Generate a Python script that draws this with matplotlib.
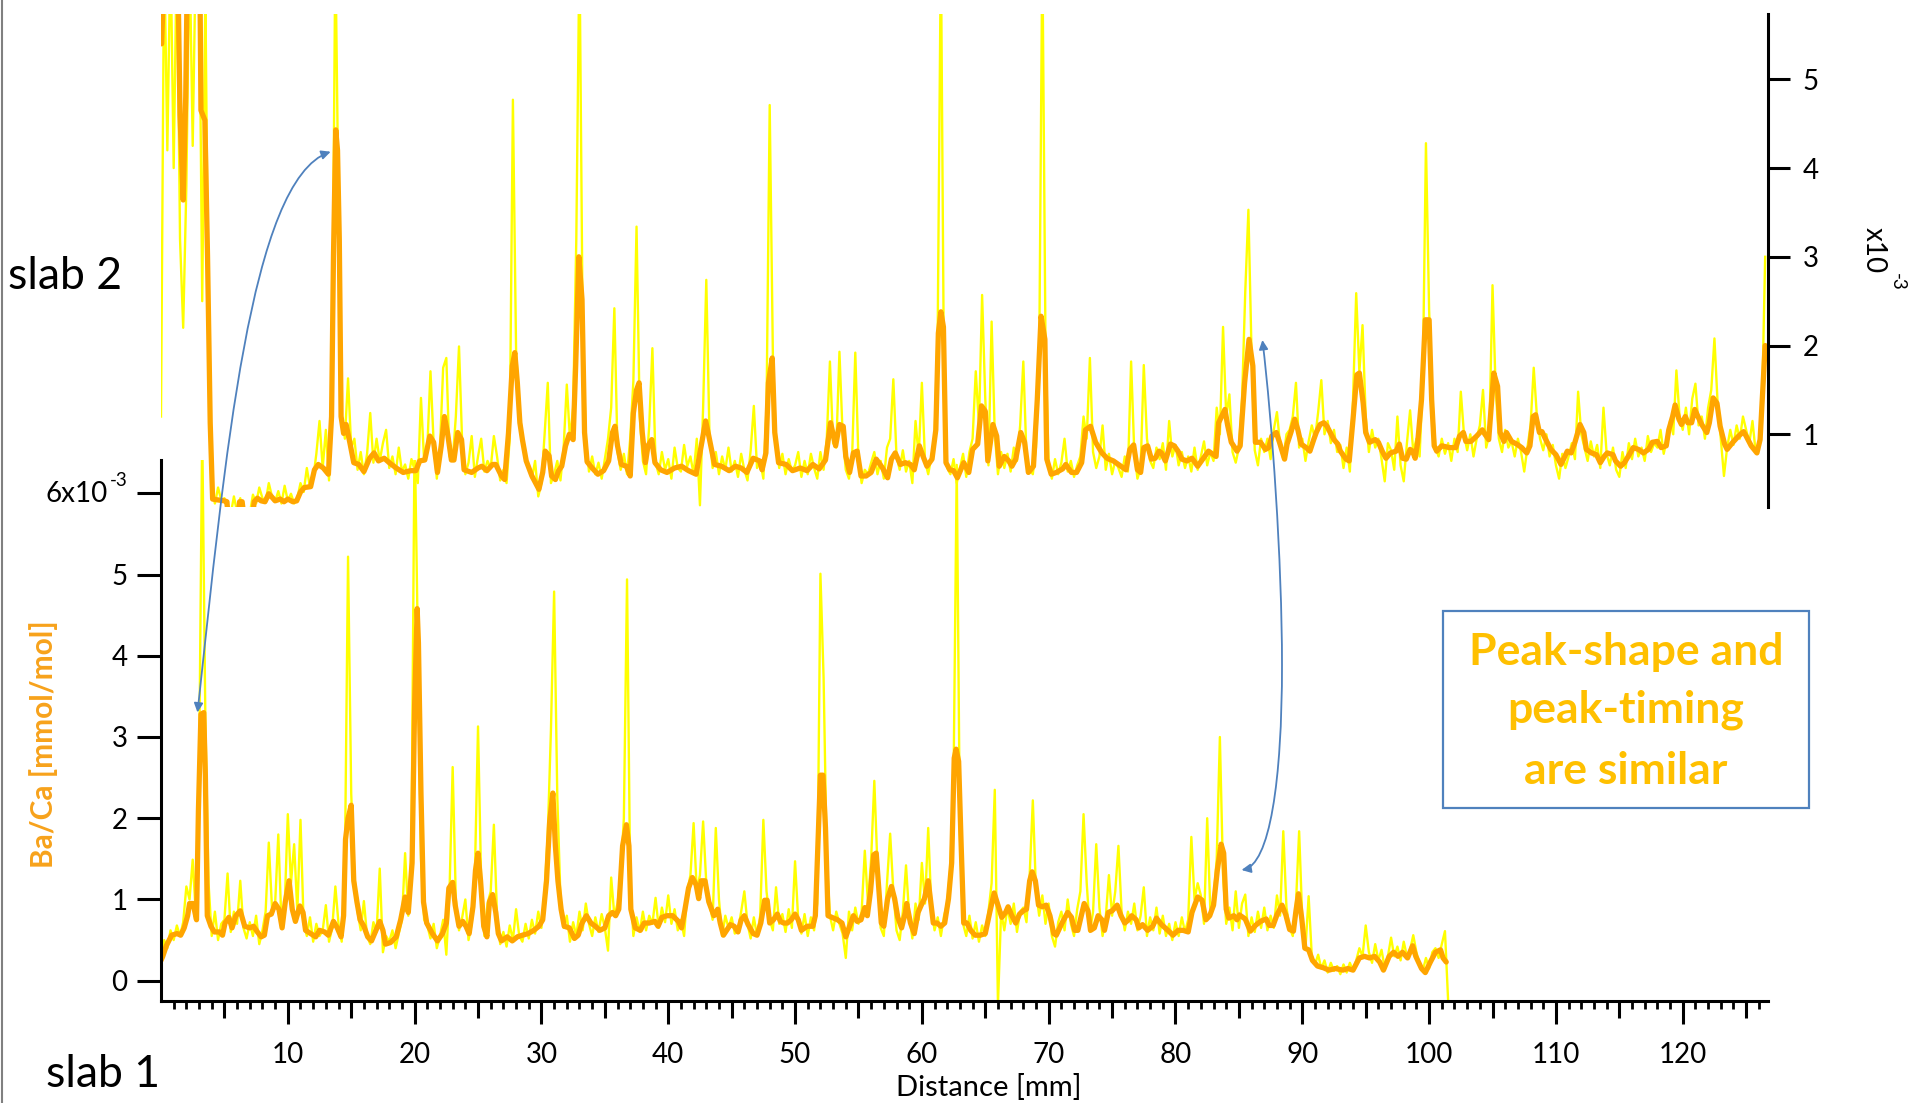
import numpy as np
import matplotlib
matplotlib.use("Agg")
import matplotlib.pyplot as plt
from matplotlib.path import Path
from matplotlib.patches import FancyArrowPatch, Rectangle
from matplotlib.lines import Line2D

plt.rcParams['font.family'] = ['Lato', 'DejaVu Sans']

# ---------------- data (Ba/Ca, x10^-3 mmol/mol vs distance in mm) ----------------
RAW_STEP = 0.25  # sampling step of the raw (yellow) series, mm

# slab 2 (upper panel) raw signal, one value every 0.25 mm starting at 0
slab2_raw = [
    1.2, 6.5, 4.2, 6.5,   4.0, 6.5, 3.2, 2.2,   3.8, 6.5, 4.25, 6.5,   6.5, 2.5, 6.0, 2.0,
    0.40, 0.22, 0.40, 0.26,   0.28, 0.12, 0.10, 0.30,   0.12, 0.28, 0.10, 0.12,   0.10, 0.32, 0.22, 0.40,
    0.28, 0.24, 0.45, 0.30,   0.24, 0.36, 0.22, 0.42,   0.25, 0.33, 0.22, 0.28,   0.45, 0.35, 0.62, 0.40,
    0.50, 0.78, 1.15, 0.62,   1.05, 0.48, 1.8, 6.5,   3.5, 1.22, 0.95, 1.63,   0.85, 0.95, 0.60, 0.80,
    0.55, 0.78, 1.24, 0.68,   0.95, 0.70, 0.90, 1.05,   0.62, 0.75, 0.55, 0.85,   0.58, 0.66, 0.50, 0.72,
    0.60, 0.45, 1.41, 0.70,   0.85, 1.71, 0.90, 0.50,   0.85, 1.75, 1.86, 0.75,   0.70, 1.2, 1.99, 0.90,
    0.55, 0.68, 0.98, 0.52,   0.75, 0.95, 0.58, 0.70,   0.62, 0.98, 0.75, 0.48,   0.60, 0.45, 0.95, 4.77,
    1.95, 1.3, 0.95, 0.75,   0.62, 0.50, 0.70, 0.30,   0.45, 1.0, 1.58, 0.45,   0.55, 0.70, 0.48, 0.85,
    1.56, 0.95, 1.3, 3.2,   6.5, 2.2, 0.95, 0.58,   0.75, 0.55, 0.68, 0.50,   0.72, 0.95, 1.3, 2.42,
    0.80, 0.60, 0.78, 0.55,   0.95, 1.6, 3.34, 1.2,   0.70, 0.55, 1.1, 1.97,   0.68, 0.55, 0.80, 0.60,
    0.72, 0.50, 0.85, 0.62,   0.58, 0.88, 0.64, 0.75,   0.55, 0.95, 0.20, 1.3,   2.74, 1.0, 0.62, 0.80,
    0.55, 0.75, 0.60, 0.85,   0.58, 0.70, 0.52, 0.78,   0.60, 0.48, 0.82, 1.32,   0.62, 0.70, 0.50, 1.3,
    4.71, 1.9, 0.9, 0.62,   0.78, 0.55, 0.72, 0.58,   0.65, 0.80, 0.52, 0.70,   0.55, 0.78, 0.62, 0.50,
    0.80, 0.60, 0.95, 1.82,   0.90, 0.85, 1.93, 1.0,   0.60, 0.50, 0.75, 1.92,   0.72, 0.45, 0.60, 0.55,
    0.68, 0.80, 0.55, 0.70,   0.50, 0.85, 0.95, 1.62,   0.75, 0.60, 0.82, 0.58,   0.70, 0.45, 1.15, 0.75,
    1.58, 0.70, 0.55, 0.75,   0.95, 2.2, 6.5, 1.5,   0.62, 0.55, 0.72, 0.45,   0.62, 0.78, 0.52, 0.80,
    0.95, 1.71, 1.1, 2.57,   1.4, 0.65, 2.27, 1.0,   0.55, 0.80, 0.62, 0.78,   0.58, 0.85, 0.70, 1.1,
    1.82, 0.75, 0.60, 0.55,   0.85, 1.8, 6.5, 2.0,   0.65, 0.50, 0.72, 0.55,   0.68, 0.95, 0.58, 0.70,
    0.52, 0.65, 0.75, 1.2,   0.95, 1.86, 0.80, 0.62,   0.75, 1.1, 0.60, 0.78,   0.55, 0.70, 0.62, 0.52,
    0.75, 0.58, 1.82, 0.80,   0.50, 0.62, 1.78, 0.95,   0.70, 0.62, 0.85, 0.72,   0.90, 0.60, 1.15, 0.75,
    0.88, 0.65, 0.80, 0.62,   0.75, 0.58, 0.85, 0.60,   0.75, 0.92, 0.65, 0.80,   0.70, 1.3, 1.0, 2.21,
    1.2, 1.45, 0.80, 0.68,   0.85, 1.4, 2.6, 3.53,   1.9, 0.82, 0.65, 0.95,   0.80, 0.95, 0.72, 1.05,
    1.25, 0.88, 0.72, 1.0,   1.05, 1.2, 1.58, 0.85,   0.95, 0.70, 0.92, 1.1,   0.95, 1.25, 1.61, 1.0,
    1.15, 0.90, 1.05, 0.80,   0.88, 0.62, 0.85, 0.58,   1.4, 2.59, 1.7, 2.23,   1.2, 0.80, 1.05, 0.85,
    0.95, 0.72, 0.47, 0.90,   0.82, 0.60, 1.2, 0.65,   0.47, 0.90, 1.27, 0.80,   0.95, 0.75, 1.6, 4.28,
    2.4, 1.4, 0.85, 0.75,   0.95, 0.78, 0.90, 0.70,   0.95, 0.80, 1.48, 1.0,   0.82, 1.0, 0.75, 0.95,
    1.1, 1.5, 0.85, 1.0,   2.68, 1.5, 0.95, 0.80,   1.05, 0.85, 0.92, 0.75,   0.95, 0.80, 0.58, 0.85,
    1.1, 1.75, 1.2, 0.95,   0.82, 1.0, 0.75, 0.88,   0.65, 0.50, 0.78, 0.62,   0.75, 0.90, 0.72, 1.48,
    1.0, 0.85, 0.70, 0.92,   0.75, 0.88, 0.62, 1.3,   0.78, 0.65, 0.85, 0.60,   0.52, 0.80, 0.62, 0.90,
    0.72, 0.95, 0.75, 0.85,   0.70, 0.98, 0.80, 0.90,   0.85, 1.05, 0.78, 0.95,   1.15, 1.0, 1.72, 1.2,
    1.05, 1.3, 1.0, 1.4,   1.57, 1.1, 1.2, 0.95,   1.3, 1.5, 2.08, 1.35,   0.95, 0.53, 0.85, 1.05,
    0.88, 1.1, 0.95, 1.2,   1.05, 0.90, 1.15, 0.80,   0.85, 1.3, 3.0,
]

# slab 2 smoothed signal (x mm, value)
slab2_smooth = [
    (0.05, 5.4), (0.3, 6.5), (1.3, 6.5), (1.5, 4.6), (1.75, 3.64), (1.95, 4.8), (2.1, 6.5), (3.05, 6.5),
    (3.15, 4.65), (3.46, 4.54), (3.67, 3.0), (3.88, 1.13), (4.07, 0.27), (4.5, 0.26), (5.0, 0.25), (5.2, 0.24),
    (5.3, 0.05), (6.05, 0.05), (6.2, 0.24), (6.4, 0.24), (6.55, 0.05), (7.2, 0.05), (7.35, 0.24), (7.6, 0.28),
    (7.9, 0.25), (8.2, 0.24), (8.5, 0.33), (8.7, 0.30), (9.0, 0.25), (9.4, 0.27), (9.7, 0.24), (10.0, 0.27),
    (10.4, 0.24), (10.7, 0.25), (11.0, 0.35), (11.3, 0.40), (11.8, 0.41), (12.1, 0.60), (12.4, 0.66), (12.8, 0.62),
    (13.2, 0.55), (13.45, 1.2), (13.6, 3.0), (13.78, 4.43), (13.92, 4.2), (14.06, 3.2), (14.2, 1.2), (14.4, 1.01),
    (14.6, 1.11), (14.9, 0.90), (15.2, 0.68), (15.6, 0.66), (16.0, 0.58), (16.45, 0.73), (16.8, 0.79), (17.15, 0.70),
    (17.6, 0.73), (18.0, 0.68), (18.55, 0.62), (19.1, 0.57), (19.7, 0.59), (20.1, 0.59), (20.4, 0.70), (20.8, 0.71),
    (21.2, 0.98), (21.5, 0.91), (21.8, 0.57), (22.1, 0.87), (22.35, 1.2), (22.6, 1.01), (22.9, 0.71), (23.1, 0.71),
    (23.4, 1.02), (23.7, 0.94), (23.9, 0.60), (24.5, 0.57), (25.0, 0.62), (25.3, 0.64), (25.7, 0.59), (26.15, 0.66),
    (26.4, 0.66), (26.85, 0.53), (27.1, 0.49), (27.4, 1.01), (27.7, 1.77), (27.9, 1.92), (28.1, 1.58), (28.3, 1.13),
    (28.5, 0.94), (28.8, 0.70), (29.25, 0.53), (29.8, 0.38), (30.1, 0.57), (30.3, 0.81), (30.6, 0.76), (30.8, 0.53),
    (31.1, 0.49), (31.35, 0.59), (31.6, 0.64), (31.9, 0.87), (32.2, 1.0), (32.5, 0.94), (32.7, 1.77), (32.95, 3.0),
    (33.2, 2.52), (33.4, 1.02), (33.6, 0.69), (34.0, 0.62), (34.45, 0.55), (34.9, 0.59), (35.3, 0.70), (35.6, 1.02),
    (35.8, 1.09), (36.0, 0.87), (36.3, 0.66), (36.7, 0.64), (37.0, 0.53), (37.25, 1.24), (37.5, 1.5), (37.7, 1.58),
    (37.95, 1.02), (38.2, 0.68), (38.4, 0.87), (38.7, 0.94), (38.95, 0.68), (39.4, 0.60), (39.9, 0.57), (40.5, 0.62),
    (41.05, 0.64), (41.6, 0.59), (42.2, 0.55), (42.6, 0.87), (42.95, 1.15), (43.2, 0.98), (43.65, 0.66), (44.2, 0.64),
    (44.8, 0.59), (45.3, 0.64), (45.75, 0.62), (46.2, 0.57), (46.7, 0.73), (47.2, 0.70), (47.4, 0.60), (47.7, 0.79),
    (47.9, 1.58), (48.2, 1.86), (48.4, 1.02), (48.7, 0.68), (49.3, 0.66), (49.8, 0.59), (50.4, 0.62), (50.95, 0.59),
    (51.4, 0.66), (51.9, 0.61), (52.4, 0.71), (52.8, 1.13), (53.2, 0.87), (53.5, 1.11), (53.8, 1.09), (54.0, 0.75),
    (54.3, 0.57), (54.6, 0.79), (54.9, 0.81), (55.2, 0.53), (55.6, 0.53), (56.0, 0.57), (56.4, 0.72), (56.9, 0.62),
    (57.3, 0.51), (57.6, 0.72), (57.9, 0.79), (58.3, 0.66), (58.7, 0.68), (59.1, 0.66), (59.4, 0.60), (59.8, 0.87),
    (60.1, 0.75), (60.4, 0.64), (60.8, 0.72), (61.1, 1.05), (61.3, 2.14), (61.5, 2.38), (61.7, 2.21), (61.9, 0.68),
    (62.2, 0.60), (62.5, 0.59), (62.8, 0.51), (63.3, 0.68), (63.7, 0.57), (64.0, 0.83), (64.4, 0.89), (64.7, 1.32),
    (65.0, 1.26), (65.2, 0.70), (65.6, 1.11), (65.9, 0.98), (66.1, 0.64), (66.5, 0.75), (66.85, 0.70), (67.1, 0.64),
    (67.4, 0.72), (67.8, 1.02), (68.1, 0.91), (68.4, 0.57), (68.8, 0.64), (69.1, 1.39), (69.4, 2.33), (69.7, 2.07),
    (69.85, 0.72), (70.2, 0.55), (70.6, 0.57), (71.1, 0.61), (71.35, 0.66), (71.8, 0.57), (72.2, 0.57), (72.6, 0.68),
    (72.9, 1.05), (73.3, 1.09), (73.7, 0.91), (74.2, 0.79), (74.6, 0.73), (75.1, 0.70), (75.7, 0.64), (76.1, 0.60),
    (76.4, 0.83), (76.7, 0.88), (77.0, 0.60), (77.25, 0.57), (77.5, 0.85), (77.8, 0.87), (78.1, 0.72), (78.4, 0.73),
    (78.7, 0.81), (78.9, 0.79), (79.2, 0.70), (79.6, 0.89), (79.9, 0.87), (80.2, 0.81), (80.5, 0.72), (80.9, 0.70),
    (81.3, 0.73), (81.75, 0.64), (82.2, 0.73), (82.6, 0.81), (83.2, 0.75), (83.4, 1.13), (83.9, 1.28), (84.1, 1.11),
    (84.4, 0.91), (84.85, 0.81), (85.1, 0.87), (85.45, 1.58), (85.8, 2.07), (86.1, 1.77), (86.3, 0.91), (86.7, 0.91),
    (87.1, 0.83), (87.35, 0.85), (87.6, 0.98), (87.95, 1.02), (88.2, 0.91), (88.6, 0.72), (88.8, 0.89), (89.1, 1.02),
    (89.4, 1.17), (89.65, 1.05), (89.9, 0.89), (90.3, 0.85), (90.6, 0.81), (90.9, 0.94), (91.1, 1.02), (91.4, 1.11),
    (91.7, 1.13), (91.95, 1.09), (92.2, 1.02), (92.5, 0.94), (92.8, 0.89), (93.0, 0.81), (93.45, 0.72), (93.7, 0.70),
    (94.0, 1.17), (94.3, 1.67), (94.5, 1.69), (94.8, 1.35), (95.0, 1.02), (95.3, 0.91), (95.75, 0.94), (96.0, 0.91),
    (96.3, 0.81), (96.6, 0.73), (96.95, 0.79), (97.4, 0.81), (97.65, 0.89), (97.9, 0.73), (98.2, 0.72), (98.5, 0.83),
    (98.7, 0.81), (98.9, 0.73), (99.1, 0.91), (99.4, 1.39), (99.7, 2.29), (100.0, 2.29), (100.2, 1.39), (100.4, 0.87),
    (100.6, 0.81), (101.0, 0.87), (101.6, 0.85), (102.1, 0.85), (102.4, 0.98), (102.7, 1.02), (102.9, 0.92), (103.3, 0.92),
    (103.75, 0.98), (104.2, 1.05), (104.4, 1.0), (104.7, 0.94), (105.1, 1.69), (105.4, 1.54), (105.6, 1.02), (105.9, 0.92),
    (106.1, 1.02), (106.5, 0.92), (106.9, 0.89), (107.3, 0.85), (107.7, 0.79), (107.95, 0.87), (108.2, 1.2), (108.4, 1.22),
    (108.7, 1.02), (108.9, 1.03), (109.2, 0.94), (109.6, 0.83), (110.0, 0.77), (110.4, 0.66), (110.7, 0.75), (110.9, 0.81),
    (111.2, 0.79), (111.5, 0.91), (111.9, 1.11), (112.2, 1.02), (112.4, 0.83), (112.8, 0.79), (113.2, 0.77), (113.5, 0.68),
    (113.8, 0.75), (114.05, 0.79), (114.5, 0.77), (114.7, 0.70), (115.1, 0.64), (115.4, 0.68), (115.7, 0.75), (116.1, 0.85),
    (116.5, 0.83), (116.9, 0.79), (117.3, 0.83), (117.6, 0.91), (118.0, 0.92), (118.3, 0.85), (118.7, 0.87), (118.9, 1.05),
    (119.2, 1.2), (119.4, 1.33), (119.7, 1.17), (119.9, 1.11), (120.2, 1.2), (120.4, 1.13), (120.7, 1.13), (120.95, 1.28),
    (121.2, 1.2), (121.5, 1.11), (121.9, 1.02), (122.1, 1.13), (122.4, 1.41), (122.7, 1.35), (122.95, 1.09), (123.3, 0.89),
    (123.5, 0.83), (123.95, 0.91), (124.4, 0.98), (124.8, 1.03), (125.0, 0.98), (125.4, 0.87), (125.85, 0.79), (126.1, 0.94),
    (126.5, 2.0),
]

# slab 1 (lower panel) raw signal, one value every 0.25 mm starting at 0
slab1_raw = [
    0.25, 0.50, 0.40, 0.62,   0.50, 0.68, 0.55, 0.72,   1.16, 1.0, 1.49, 0.80,   2.5, 6.8, 3.2, 1.2,
    0.55, 0.85, 0.50, 0.70,   0.75, 1.32, 0.60, 0.85,   0.70, 1.23, 0.65, 0.52,   0.72, 0.55, 0.80, 0.45,
    0.62, 0.85, 1.7, 0.90,   0.95, 1.8, 0.70, 0.90,   2.05, 1.2, 1.68, 0.85,   1.98, 0.70, 0.55, 0.78,
    0.48, 0.70, 0.55, 0.62,   0.93, 0.48, 0.65, 1.16,   0.70, 0.48, 1.4, 5.22,   2.3, 1.3, 0.85, 0.62,
    0.98, 0.55, 0.45, 0.72,   0.60, 1.38, 0.35, 0.55,   0.48, 0.62, 0.40, 0.58,   0.75, 1.57, 0.80, 1.6,
    6.8, 4.2, 1.5, 0.75,   0.68, 0.52, 0.70, 0.40,   0.55, 0.75, 0.32, 1.1,   2.63, 1.0, 0.62, 0.78,
    1.0, 0.50, 0.70, 1.3,   3.13, 1.2, 0.55, 0.95,   1.1, 1.92, 0.80, 0.45,   0.60, 0.42, 0.68, 0.50,
    0.88, 0.55, 0.48, 0.70,   0.52, 0.75, 0.58, 0.85,   0.65, 1.1, 1.8, 3.09,   4.79, 2.27, 1.02, 0.65,
    0.80, 0.48, 0.72, 0.55,   0.85, 0.62, 0.95, 0.70,   0.55, 0.78, 0.60, 0.82,   0.65, 0.37, 1.27, 0.80,
    0.95, 1.3, 2.0, 4.94,   1.2, 0.55, 0.78, 0.60,   0.85, 0.62, 0.80, 0.70,   1.02, 0.65, 0.90, 0.72,
    1.05, 0.70, 0.88, 0.62,   0.75, 0.55, 1.1, 1.3,   1.94, 1.1, 1.3, 1.96,   1.2, 0.95, 0.75, 1.88,
    1.0, 0.55, 0.80, 0.65,   0.78, 0.58, 0.62, 0.85,   1.1, 0.70, 0.52, 0.78,   0.55, 0.80, 1.98, 1.1,
    0.75, 0.62, 1.15, 0.70,   0.82, 0.60, 0.88, 0.65,   1.47, 0.75, 0.58, 0.82,   0.55, 0.78, 0.62, 0.95,
    5.01, 3.73, 1.5, 0.80,   0.62, 0.85, 0.70, 0.58,   0.28, 0.85, 0.62, 0.90,   0.70, 0.85, 1.6, 0.95,
    1.5, 2.46, 1.4, 0.65,   0.55, 1.2, 1.81, 1.1,   0.62, 0.50, 0.85, 1.42,   0.80, 0.52, 0.95, 0.75,
    1.45, 0.95, 1.88, 0.90,   0.62, 0.78, 0.55, 0.80,   0.95, 1.4, 2.5, 6.35,   1.8, 0.70, 0.55, 0.80,
    0.52, 0.72, 0.48, 0.68,   0.55, 0.85, 1.2, 2.35,   -0.3, 0.85, 0.62, 0.90,   0.70, 0.95, 0.60, 0.85,
    0.90, 0.72, 1.3, 2.22,   1.1, 0.80, 1.05, 0.70,   0.95, 0.55, 0.42, 0.72,   0.85, 0.62, 1.0, 0.70,
    0.55, 0.88, 1.1, 2.05,   1.2, 0.60, 0.85, 1.68,   0.90, 0.55, 0.78, 1.3,   0.80, 1.1, 1.66, 0.85,
    0.62, 0.85, 0.70, 0.95,   0.62, 0.80, 1.15, 0.55,   0.78, 0.62, 0.90, 0.58,   0.80, 0.55, 0.70, 0.50,
    0.72, 0.55, 0.78, 0.60,   0.75, 1.77, 1.0, 1.2,   1.05, 0.70, 2.0, 0.85,   1.0, 1.5, 3.0, 1.3,
    0.70, 0.90, 0.62, 1.1,   0.65, 0.95, 1.06, 0.55,   0.78, 0.60, 0.85, 0.65,   0.90, 0.62, 0.80, 0.65,
    1.05, 0.80, 1.84, 0.90,   0.65, 0.55, 0.95, 1.84,   0.75, 0.40, 1.04, 0.30,   0.20, 0.32, 0.15, 0.25,
    0.10, 0.22, 0.12, 0.18,   0.08, 0.20, 0.10, 0.22,   0.12, 0.25, 0.40, 0.30,   0.68, 0.35, 0.22, 0.45,
    0.25, 0.38, 0.15, 0.30,   0.53, 0.30, 0.42, 0.25,   0.48, 0.30, 0.38, 0.56,   0.35, 0.20, 0.12, 0.28,
    0.15, 0.35, 0.40, 0.28,   0.45, 0.61, -0.25,
]

# slab 1 smoothed signal (x mm, value)
slab1_smooth = [
    (0.0, 0.25), (0.14, 0.30), (0.42, 0.43), (0.84, 0.56), (1.27, 0.58), (1.55, 0.56), (1.83, 0.65), (2.1, 0.8),
    (2.25, 0.95), (2.53, 0.95), (2.8, 0.75), (2.95, 2.09), (3.15, 3.28), (3.37, 3.30), (3.5, 2.52), (3.65, 0.80),
    (3.94, 0.67), (4.2, 0.60), (4.6, 0.60), (4.85, 0.56), (5.05, 0.71), (5.35, 0.78), (5.6, 0.65), (5.9, 0.80),
    (6.25, 0.86), (6.6, 0.67), (7.0, 0.65), (7.3, 0.67), (7.6, 0.60), (7.9, 0.54), (8.15, 0.56), (8.4, 0.80),
    (8.7, 0.82), (9.0, 0.95), (9.3, 0.88), (9.55, 0.65), (9.8, 0.97), (10.1, 1.23), (10.35, 0.88), (10.6, 0.73),
    (10.95, 0.92), (11.2, 0.84), (11.4, 0.62), (11.8, 0.58), (12.2, 0.54), (12.5, 0.62), (12.9, 0.60), (13.2, 0.56),
    (13.6, 0.73), (13.9, 0.65), (14.2, 0.54), (14.4, 0.8), (14.55, 1.74), (14.75, 2.0), (15.0, 2.16), (15.2, 1.23),
    (15.45, 0.97), (15.7, 0.75), (16.0, 0.67), (16.3, 0.54), (16.6, 0.49), (16.9, 0.60), (17.25, 0.73), (17.5, 0.62),
    (17.7, 0.45), (18.1, 0.47), (18.55, 0.54), (18.9, 0.75), (19.25, 1.03), (19.5, 0.84), (19.8, 1.45), (20.0, 3.39),
    (20.2, 4.58), (20.3, 4.16), (20.5, 2.31), (20.7, 0.97), (20.95, 0.71), (21.4, 0.58), (21.8, 0.49), (22.2, 0.58),
    (22.5, 0.71), (22.7, 1.14), (23.0, 1.21), (23.2, 0.93), (23.5, 0.67), (23.8, 0.73), (24.05, 0.67), (24.3, 0.58),
    (24.6, 0.91), (24.8, 1.36), (25.0, 1.57), (25.2, 1.23), (25.45, 0.67), (25.7, 0.54), (25.9, 0.97), (26.15, 1.06),
    (26.4, 0.84), (26.6, 0.58), (26.85, 0.49), (27.3, 0.54), (27.7, 0.49), (28.1, 0.54), (28.5, 0.56), (28.95, 0.58),
    (29.4, 0.62), (29.8, 0.67), (30.1, 0.75), (30.4, 1.23), (30.65, 1.96), (30.9, 2.31), (31.1, 1.66), (31.3, 1.23),
    (31.55, 0.88), (31.8, 0.67), (32.2, 0.65), (32.6, 0.52), (32.9, 0.56), (33.2, 0.71), (33.55, 0.80), (33.9, 0.71),
    (34.25, 0.67), (34.6, 0.62), (35.0, 0.65), (35.3, 0.80), (35.6, 0.84), (35.85, 0.80), (36.1, 0.88), (36.4, 1.66),
    (36.7, 1.92), (36.9, 1.66), (37.05, 0.88), (37.4, 0.65), (37.8, 0.62), (38.1, 0.71), (38.5, 0.71), (38.95, 0.73),
    (39.2, 0.67), (39.5, 0.78), (39.9, 0.80), (40.35, 0.80), (40.8, 0.73), (41.05, 0.65), (41.3, 0.86), (41.6, 1.14),
    (41.9, 1.27), (42.2, 1.18), (42.4, 1.01), (42.6, 1.23), (42.9, 1.23), (43.2, 0.97), (43.6, 0.80), (43.9, 0.88),
    (44.1, 0.71), (44.35, 0.56), (44.6, 0.62), (44.9, 0.69), (45.2, 0.67), (45.5, 0.60), (45.75, 0.75), (46.0, 0.80),
    (46.3, 0.69), (46.7, 0.58), (47.0, 0.56), (47.3, 0.71), (47.6, 0.99), (47.8, 0.99), (48.0, 0.71), (48.3, 0.75),
    (48.6, 0.82), (48.85, 0.73), (49.1, 0.71), (49.4, 0.71), (49.7, 0.75), (50.0, 0.82), (50.25, 0.75), (50.5, 0.62),
    (50.95, 0.67), (51.4, 0.67), (51.6, 0.80), (51.8, 1.66), (52.0, 2.53), (52.2, 2.53), (52.4, 1.88), (52.6, 0.80),
    (52.9, 0.78), (53.35, 0.75), (53.7, 0.71), (54.0, 0.54), (54.3, 0.67), (54.6, 0.80), (54.9, 0.73), (55.2, 0.75),
    (55.5, 0.90), (55.7, 0.80), (55.95, 1.10), (56.2, 1.55), (56.4, 1.57), (56.6, 1.14), (56.8, 0.71), (57.0, 0.67),
    (57.3, 1.01), (57.6, 1.16), (57.85, 1.01), (58.1, 0.78), (58.4, 0.65), (58.7, 0.84), (58.8, 0.95), (59.1, 0.71),
    (59.4, 0.58), (59.7, 0.84), (59.95, 0.93), (60.2, 1.01), (60.5, 1.23), (60.7, 0.97), (60.9, 0.71), (61.2, 0.71),
    (61.5, 0.67), (61.8, 0.71), (62.1, 1.01), (62.35, 1.45), (62.55, 2.74), (62.7, 2.85), (62.9, 2.70), (63.1, 1.66),
    (63.3, 0.71), (63.55, 0.71), (63.85, 0.62), (64.2, 0.56), (64.6, 0.56), (65.0, 0.58), (65.35, 0.84), (65.7, 1.08),
    (66.0, 0.93), (66.3, 0.78), (66.6, 0.84), (66.8, 0.91), (67.1, 0.80), (67.4, 0.71), (67.7, 0.82), (68.0, 0.86),
    (68.25, 0.88), (68.5, 1.23), (68.7, 1.34), (68.95, 1.23), (69.2, 0.93), (69.5, 0.91), (69.8, 0.93), (70.1, 0.80),
    (70.4, 0.58), (70.6, 0.56), (71.05, 0.71), (71.5, 0.84), (71.8, 0.78), (72.05, 0.62), (72.3, 0.62), (72.6, 0.82),
    (72.8, 0.95), (73.1, 0.86), (73.3, 0.62), (73.6, 0.65), (73.9, 0.80), (74.2, 0.75), (74.4, 0.62), (74.7, 0.84),
    (75.0, 0.86), (75.4, 0.93), (75.7, 0.80), (76.0, 0.71), (76.3, 0.75), (76.55, 0.80), (76.9, 0.75), (77.1, 0.65),
    (77.4, 0.69), (77.8, 0.62), (78.2, 0.67), (78.5, 0.77), (78.9, 0.69), (79.4, 0.62), (79.8, 0.56), (80.2, 0.62),
    (80.6, 0.62), (81.0, 0.60), (81.3, 0.84), (81.75, 1.03), (82.1, 0.99), (82.4, 0.75), (82.7, 0.80), (83.0, 0.93),
    (83.3, 1.36), (83.6, 1.68), (83.8, 1.57), (84.0, 0.88), (84.2, 0.77), (84.6, 0.80), (84.85, 0.75), (85.04, 0.81),
    (85.5, 0.76), (85.9, 0.61), (86.3, 0.68), (86.7, 0.73), (87.15, 0.76), (87.4, 0.68), (87.7, 0.68), (88.0, 0.81),
    (88.4, 0.93), (88.7, 0.81), (89.0, 0.63), (89.3, 0.61), (89.5, 0.86), (89.7, 1.07), (89.96, 0.76), (90.2, 0.40),
    (90.5, 0.38), (90.8, 0.25), (91.2, 0.18), (91.65, 0.16), (92.1, 0.13), (92.6, 0.15), (93.2, 0.13), (93.6, 0.15),
    (94.0, 0.13), (94.5, 0.28), (94.9, 0.30), (95.3, 0.28), (95.7, 0.30), (96.1, 0.23), (96.4, 0.13), (96.85, 0.30),
    (97.2, 0.35), (97.55, 0.30), (97.9, 0.35), (98.3, 0.28), (98.7, 0.43), (98.95, 0.30), (99.4, 0.15), (99.7, 0.10),
    (100.1, 0.23), (100.5, 0.35), (100.9, 0.38), (101.1, 0.28), (101.35, 0.23),
]

x_ticks_major = [10, 20, 30, 40, 50, 60, 70, 80, 90, 100, 110, 120]
x_ticks_mid = [5, 15, 25, 35, 45, 55, 65, 75, 85, 95, 105, 115, 125]
y_ticks_lower = [0, 1, 2, 3, 4, 5, 6]
y_labels_lower = ['0', '1', '2', '3', '4', '5', '']
y_ticks_upper = [1, 2, 3, 4, 5]
y_labels_upper = ['1', '2', '3', '4', '5']

# ---------------- styling ----------------
W, H = 1915, 1103
ORANGE = '#FFA500'
YELLOW = '#FFFF00'
BLUE = '#4F81BD'
GOLD = '#FFC000'
XMAX = 126.7


def fx(px):
    return px / W


def fy(py):
    return 1 - py / H


fig = plt.figure(figsize=(W / 100, H / 100), dpi=100)

ax_low = fig.add_axes([fx(161), fy(1001), fx(1767.7) - fx(161), fy(460) - fy(1001)])
ax_up = fig.add_axes([fx(161), fy(506.7), fx(1767.7) - fx(161), fy(14) - fy(506.7)])
for a in (ax_low, ax_up):
    a.patch.set_visible(False)

# lower panel: slab 1
x1r = np.arange(len(slab1_raw)) * RAW_STEP
ax_low.plot(x1r, slab1_raw, color=YELLOW, lw=1.7, zorder=1)
s1 = np.array(slab1_smooth)
ax_low.plot(s1[:, 0], s1[:, 1], color=ORANGE, lw=3.8, zorder=2,
            solid_joinstyle='round', solid_capstyle='round')
ax_low.set_xlim(0, XMAX)
ax_low.set_ylim(-0.25, 6.41)
for s in ('top', 'right'):
    ax_low.spines[s].set_visible(False)
for s in ('left', 'bottom'):
    ax_low.spines[s].set_linewidth(2.2)
ax_low.set_yticks(y_ticks_lower)
ax_low.set_yticklabels(y_labels_lower)
ax_low.tick_params(axis='y', direction='out', length=17, width=2.2, labelsize=20, pad=7)
ax_low.set_xticks(x_ticks_major)
ax_low.set_xticks(np.arange(1, 127), minor=True)
ax_low.tick_params(axis='x', which='major', direction='out', length=16.5, width=2.2,
                   labelsize=20, pad=13)
ax_low.tick_params(axis='x', which='minor', direction='out', length=6, width=2)
sec = ax_low.secondary_xaxis('bottom')
sec.set_xticks(x_ticks_mid)
sec.tick_params(axis='x', direction='out', length=12.5, width=2.2, labelbottom=False)
sec.spines['bottom'].set_visible(False)

# upper panel: slab 2
x2r = np.arange(len(slab2_raw)) * RAW_STEP
ax_up.plot(x2r, slab2_raw, color=YELLOW, lw=1.7, zorder=1)
s2 = np.array(slab2_smooth)
ax_up.plot(s2[:, 0], s2[:, 1], color=ORANGE, lw=3.8, zorder=2,
           solid_joinstyle='round', solid_capstyle='round')
ax_up.set_xlim(0, XMAX)
ax_up.set_ylim(0.184, 5.736)
for s in ('top', 'left', 'bottom'):
    ax_up.spines[s].set_visible(False)
ax_up.spines['right'].set_linewidth(2.2)
ax_up.set_xticks([])
ax_up.yaxis.tick_right()
ax_up.set_yticks(y_ticks_upper)
ax_up.set_yticklabels(y_labels_upper)
ax_up.tick_params(axis='y', direction='out', length=16, width=2.2, labelsize=20, pad=9)

# ---------------- texts ----------------
fig.text(fx(108), fy(493.5), '6x10', fontsize=20, ha='right', va='center')
fig.text(fx(110), fy(481), '-3', fontsize=13.5, ha='left', va='center')
fig.text(fx(1874), fy(250), 'x10', fontsize=20, rotation=270, ha='center', va='center')
fig.text(fx(1897), fy(282), '-3', fontsize=13.5, rotation=270, ha='center', va='center')

fig.text(fx(44), fy(744.5), 'Ba/Ca [mmol/mol]', fontsize=21.5, fontweight='bold',
         color='#F7A21B', rotation=90, ha='center', va='center')
fig.text(fx(988.5), fy(1096), 'Distance [mm]', fontsize=21, ha='center', va='baseline')
fig.text(fx(8), fy(289), 'slab 2', fontsize=32, ha='left', va='baseline')
fig.text(fx(46), fy(1087), 'slab 1', fontsize=32, ha='left', va='baseline')

# annotation box
fig.add_artist(Rectangle((fx(1443.5), fy(807.5)), fx(1808.8) - fx(1443.5), fy(610.5) - fy(807.5),
                         transform=fig.transFigure, fill=False, edgecolor=BLUE, lw=1.6))
for line, base in (('Peak-shape and', 665), ('peak-timing', 723), ('are similar', 783.5)):
    fig.text(fx(1626), fy(base), line, fontsize=32, fontweight='bold', color=GOLD,
             ha='center', va='baseline')

# connecting arrows (figure pixel positions -> figure fraction)
def curve(points):
    verts = [(fx(px), fy(py)) for px, py in points]
    codes = [Path.MOVETO] + [Path.CURVE4] * (len(verts) - 1)
    return Path(verts, codes)


left_arrow = curve([(330.7, 151.7), (250, 180), (225, 460), (197.5, 712.5)])
right_arrow = curve([(1262.4, 340), (1272, 420), (1282, 560), (1282, 665),
                     (1282, 780), (1270, 865), (1241.5, 870)])
for p in (left_arrow, right_arrow):
    fig.add_artist(FancyArrowPatch(path=p, arrowstyle='<|-|>,head_length=0.45,head_width=0.22',
                                   mutation_scale=12, color=BLUE, lw=1.3,
                                   transform=fig.transFigure, shrinkA=0, shrinkB=0))

# thin grey border at the left edge
fig.add_artist(Line2D([0.0008, 0.0008], [0, 1], transform=fig.transFigure, color='#808080', lw=1.5))

fig.savefig('out.png', dpi=100)
